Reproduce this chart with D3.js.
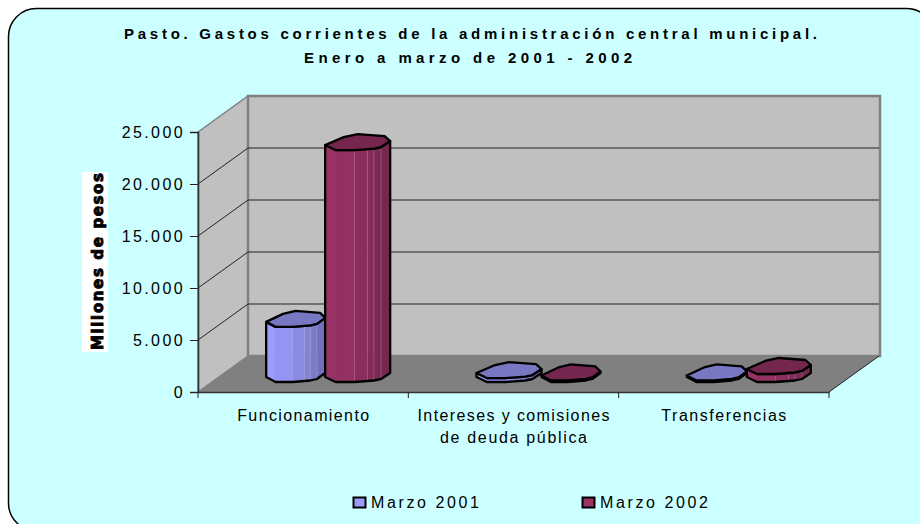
<!DOCTYPE html>
<html>
<head>
<meta charset="utf-8">
<script src="https://cdn.jsdelivr.net/npm/d3@7"></script>
<style>
html, body { margin: 0; padding: 0; background: #fff; overflow: hidden; }
svg { display: block; }
text { font-family: "Liberation Sans", Arial, sans-serif; fill: #000; }
</style>
</head>
<body>
<svg id="chart" width="920" height="524"></svg>
<script>
const categories = ["Funcionamiento", "Intereses y comisiones|de deuda pública", "Transferencias"];
const seriesNames = ["Marzo 2001", "Marzo 2002"];
const marzo2001 = [5300, 380, 150];
const marzo2002 = [22300, 150, 770];
const yTicks = [0, 5000, 10000, 15000, 20000, 25000];
const titleLines = ["Pasto. Gastos corrientes de la administración central municipal.", "Enero a marzo de 2001 - 2002"];
const yTitle = "Millones de pesos";

const svg = d3.select("#chart");
const es = d3.formatLocale({decimal: ",", thousands: ".", grouping: [3], currency: ["$", ""]}).format(",");

// fake 3d: how far the back wall sits from the front plane
const depthX = 50, depthY = -36;
const left = 198, right = 829;

const y = d3.scaleLinear().domain([0, 25000]).range([392, 132]);
const x = d3.scaleBand().domain(categories).range([left, right]);

svg.append("rect").attr("x", 8.5).attr("y", 8.5).attr("width", 926).attr("height", 522.5)
    .attr("rx", 28).attr("fill", "#CCFFFF").attr("stroke", "#000").attr("stroke-width", 1.5);

titleLines.forEach(function(line, i){
    svg.append("text").attr("x", i == 0 ? 124 : 304).attr("y", 39 + i * 23.5)
        .attr("textLength", i == 0 ? 693 : 328).attr("lengthAdjust", "spacing")
        .style("font-size", "15px").style("font-weight", "bold").text(line);
});

// walls and floor
const wall = svg.append("g");
const top3d = y(25000), base = y(0);
wall.append("path")
    .attr("d", d3.line()([[left, top3d], [left + depthX, top3d + depthY], [left + depthX, base + depthY], [left, base]]) + "Z")
    .attr("fill", "#C0C0C0").attr("stroke", "#808080").attr("stroke-width", 1.5);
wall.append("rect").attr("x", left + depthX).attr("y", top3d + depthY)
    .attr("width", right - left + 1).attr("height", base - top3d)
    .attr("fill", "#C0C0C0").attr("stroke", "#808080").attr("stroke-width", 2.5);
wall.append("path")
    .attr("d", d3.line()([[left, base], [left + depthX, base + depthY], [right + depthX, base + depthY], [right, base]]) + "Z")
    .attr("fill", "#808080");
wall.append("line").attr("x1", right).attr("y1", base).attr("x2", right + depthX).attr("y2", base + depthY)
    .attr("stroke", "#222").attr("stroke-width", 1);

// gridlines run along the side wall then across the back
yTicks.slice(1, -1).forEach(function(v){
    wall.append("path")
        .attr("d", d3.line()([[left, y(v)], [left + depthX, y(v) + depthY], [right + depthX, y(v) + depthY]]))
        .attr("fill", "none").attr("stroke", "#222").attr("stroke-width", 1);
});

// axes
const yAxis = svg.append("g").attr("transform", "translate(" + left + ",0)")
    .call(d3.axisLeft(y).tickValues(yTicks).tickFormat(es).tickSize(8).tickPadding(5));
const xAxis = svg.append("g").attr("transform", "translate(0," + base + ")")
    .call(d3.axisBottom(x).tickValues([]).tickSize(0));
xAxis.selectAll(".edge").data(d3.range(categories.length + 1)).enter().append("line")
    .attr("x1", d => left + d * x.step()).attr("x2", d => left + d * x.step())
    .attr("y1", 0).attr("y2", 6).attr("stroke", "#222");
yAxis.selectAll("text").style("font-size", "16px").style("letter-spacing", "2.4px");
yAxis.selectAll("line").attr("stroke", "#222");
svg.selectAll(".domain").attr("stroke", "#333").attr("stroke-width", 1.6);

const labelWidths = {"Funcionamiento": 132, "Intereses y comisiones": 192, "de deuda pública": 147, "Transferencias": 125};
categories.forEach(function(c){
    c.split("|").forEach(function(part, i){
        svg.append("text").attr("x", x(c) + x.bandwidth() / 2).attr("y", 420.5 + i * 22)
            .attr("text-anchor", "middle").style("font-size", "16px")
            .attr("textLength", labelWidths[part]).attr("lengthAdjust", "spacing")
            .text(part);
    });
});

// clumsy octagon of the original: [share of half width, px down from the centre]
const frontEdge = [[-1, 3], [-0.68, 8], [-0.1, 8], [0.3, 7], [0.5, 6.5], [0.72, 5], [1, -1]];
const backEdge = [[0.83, -6], [0, -8], [-0.43, -5]];
// where the two bars of a group touch, relative to the group centre
const seams = [-3, 3, -2];
const groupHalf = 62;

const bars = svg.append("g");
const barSeries = [
    {values: marzo2001, side: "#9C9CFF", shade: "#7272BC", lid: "#7777C2"},
    {values: marzo2002, side: "#993366", shade: "#742850", lid: "#74264F"}
];

barSeries.forEach(function(s, k){
    s.values.forEach(function(v, i){
        const mid = x(categories[i]) + x.bandwidth() / 2 + depthX / 2;
        const x0 = k == 0 ? mid - groupHalf : mid + seams[i];
        const x1 = k == 0 ? mid + seams[i] : mid + groupHalf;
        const cx = (x0 + x1) / 2, halfWidth = (x1 - x0) / 2;
        const floorY = base + depthY / 2;
        const topY = y(v) + depthY / 2;
        const front = frontEdge.map(p => [cx + p[0] * halfWidth, p[1]]);
        const color = d3.scaleLinear().domain([0, front.length - 2]).range([s.side, s.shade]);
        const g = bars.append("g");

        d3.pairs(front).forEach(function(pair, j){
            g.append("path")
                .attr("d", d3.line()([
                    [pair[0][0], topY + pair[0][1]], [pair[1][0], topY + pair[1][1]],
                    [pair[1][0], floorY + pair[1][1]], [pair[0][0], floorY + pair[0][1]]]) + "Z")
                .attr("fill", color(j)).attr("stroke", color(j)).attr("stroke-width", 0.5);
            if(j > 1){
                g.append("line").attr("x1", pair[0][0]).attr("x2", pair[0][0])
                    .attr("y1", topY + pair[0][1]).attr("y2", floorY + pair[0][1])
                    .attr("stroke", "#fff").attr("stroke-opacity", 0.2).attr("stroke-width", 1);
            }
        });
        const outline = front.map(p => [p[0], topY + p[1]])
            .concat(front.slice().reverse().map(p => [p[0], floorY + p[1]]));
        g.append("path").attr("d", d3.line()(outline) + "Z")
            .attr("fill", "none").attr("stroke", "#000").attr("stroke-width", 2.3).attr("stroke-linejoin", "round");

        const lid = frontEdge.concat(backEdge).map(p => [cx + p[0] * halfWidth, topY + p[1]]);
        g.append("path").attr("d", d3.line()(lid) + "Z")
            .attr("fill", s.lid).attr("stroke", "#000").attr("stroke-width", 2.3).attr("stroke-linejoin", "round");
    });
});

// y axis title on its white box
svg.append("rect").attr("x", 82).attr("y", 172).attr("width", 26).attr("height", 180).attr("fill", "#fff");
svg.append("text").attr("transform", "translate(103,350) rotate(-90)")
    .attr("textLength", 177).attr("lengthAdjust", "spacing")
    .style("font-family", "'DejaVu Sans', sans-serif").style("font-size", "15px").style("font-weight", "bold")
    .attr("stroke", "#000").attr("stroke-width", 0.9)
    .text(yTitle);

// legend
[353.5, 582.5].forEach(function(lx, i){
    svg.append("rect").attr("x", lx).attr("y", 497.5).attr("width", 12).attr("height", 10)
        .attr("fill", barSeries[i].side).attr("stroke", "#000").attr("stroke-width", 2);
    svg.append("text").attr("x", lx + 17.5).attr("y", 508).attr("textLength", 108).attr("lengthAdjust", "spacing")
        .style("font-size", "16px").text(seriesNames[i]);
});
</script>
</body>
</html>
